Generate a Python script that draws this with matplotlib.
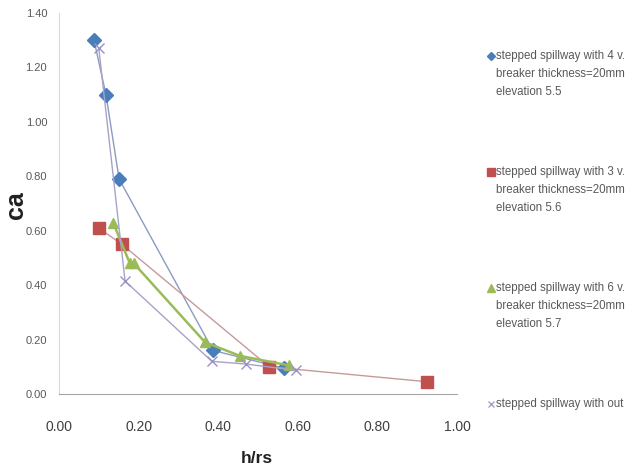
import matplotlib.pyplot as plt
from matplotlib.lines import Line2D

# data
x_4v = [0.088, 0.118, 0.151, 0.387, 0.565]
y_4v = [1.30, 1.10, 0.79, 0.16, 0.095]

x_3v = [0.100, 0.158, 0.528, 0.925]
y_3v = [0.61, 0.55, 0.10, 0.045]

x_6v = [0.136, 0.178, 0.188, 0.367, 0.455, 0.578]
y_6v = [0.63, 0.48, 0.48, 0.19, 0.14, 0.105]

x_none = [0.100, 0.166, 0.384, 0.470, 0.595]
y_none = [1.27, 0.415, 0.12, 0.11, 0.087]

labels = [
    'stepped spillway with 4 v.\nbreaker thickness=20mm\nelevation 5.5',
    'stepped spillway with 3 v.\nbreaker thickness=20mm\nelevation 5.6',
    'stepped spillway with 6 v.\nbreaker thickness=20mm\nelevation 5.7',
    'stepped spillway with out',
]

plt.rcParams['font.family'] = ['Liberation Sans', 'DejaVu Sans']

fig = plt.figure(figsize=(6.27, 4.71), dpi=100)
ax = fig.add_axes([59 / 627, 1 - 394 / 471, 398 / 627, 381 / 471])

ax.plot(x_4v, y_4v, color='#8a9cc0', linewidth=1.0, marker='D', markersize=7.5,
        markerfacecolor='#4a7ebb', markeredgecolor='#4a7ebb')
ax.plot(x_3v, y_3v, color='#c79a9a', linewidth=1.0, marker='s', markersize=8,
        markerfacecolor='#c0504d', markeredgecolor='#c0504d')
ax.plot(x_6v, y_6v, color='#9bbb59', linewidth=1.8, marker='^', markersize=7,
        markerfacecolor='#9bbb59', markeredgecolor='#9bbb59')
ax.plot(x_none, y_none, color='#a8a2c8', linewidth=1.0, marker='x', markersize=7,
        markeredgecolor='#9a92c8', markeredgewidth=1.0)

ax.set_xlim(0, 1.0)
ax.set_ylim(0, 1.4)
ax.set_xticks([0.0, 0.2, 0.4, 0.6, 0.8, 1.0])
ax.set_yticks([0.0, 0.2, 0.4, 0.6, 0.8, 1.0, 1.2, 1.4])
ax.set_xticklabels([f'{v:.2f}' for v in ax.get_xticks()], fontsize=10, color='#404040')
ax.set_yticklabels([f'{v:.2f}' for v in ax.get_yticks()], fontsize=8, color='#595959')
ax.tick_params(axis='both', length=0)
ax.tick_params(axis='x', pad=19)
ax.tick_params(axis='y', pad=8.5)

for side in ['top', 'right']:
    ax.spines[side].set_visible(False)
ax.spines['left'].set_color('#d9d9d9')
ax.spines['bottom'].set_color('#a6a6a6')

ax.set_xlabel('h/rs', fontsize=12.5, fontweight='bold', color='#202020')
ax.xaxis.set_label_coords(0.497, -0.168)
ax.xaxis.label.set_va('center')
ax.set_ylabel('ca', fontsize=18, fontweight='bold', color='#202020')
ax.yaxis.set_label_coords(-0.108, 0.496)
ax.yaxis.label.set_va('center')

# legend drawn by hand to match the Excel look (marker beside the first line)
leg_y = [56, 172, 288, 404]
leg_mk = [('D', '#4a7ebb', 4.5), ('s', '#c0504d', 5.5), ('^', '#9bbb59', 5.5), ('x', '#a8a2c8', 5)]
for ypx, lab, (mk, col, ms) in zip(leg_y, labels, leg_mk):
    yf = 1 - ypx / 471
    fig.add_artist(Line2D([491 / 627], [yf], transform=fig.transFigure, marker=mk,
                          markersize=ms, color=col, linestyle='none'))
    fig.text(496 / 627, 1 - (ypx - 6.5) / 471, lab, fontsize=8.3, color='#595959',
             va='top', ha='left', linespacing=1.7, transform=fig.transFigure)

fig.savefig('out.png', dpi=100)
